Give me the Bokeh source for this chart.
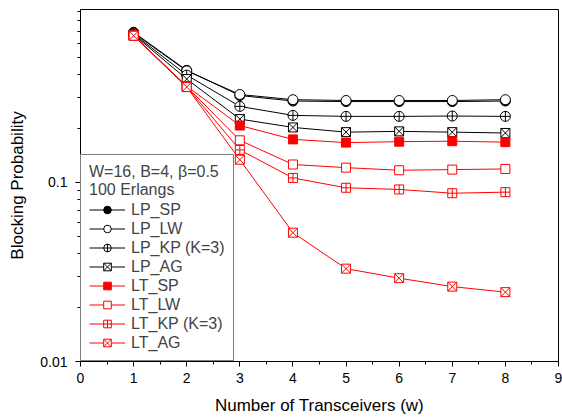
from bokeh.plotting import figure
from bokeh.models import (Legend, LegendItem, FixedTicker, CustomJSTickFormatter)
from bokeh.embed import file_html
from bokeh.resources import INLINE

transceivers = [1, 2, 3, 4, 5, 6, 7, 8]
lp_sp = [0.690, 0.423, 0.306, 0.285, 0.283, 0.283, 0.283, 0.285]
lp_lw = [0.683, 0.420, 0.310, 0.290, 0.287, 0.287, 0.287, 0.290]
lp_kp = [0.676, 0.398, 0.266, 0.237, 0.234, 0.234, 0.235, 0.234]
lp_ag = [0.670, 0.378, 0.226, 0.203, 0.191, 0.193, 0.191, 0.189]
lt_sp = [0.663, 0.345, 0.208, 0.174, 0.167, 0.169, 0.170, 0.168]
lt_lw = [0.662, 0.343, 0.172, 0.126, 0.121, 0.117, 0.118, 0.119]
lt_kp = [0.661, 0.342, 0.152, 0.106, 0.0934, 0.0914, 0.0871, 0.0883]
lt_ag = [0.660, 0.341, 0.134, 0.0524, 0.0330, 0.0292, 0.0262, 0.0244]

x_ticks = [0, 1, 2, 3, 4, 5, 6, 7, 8, 9]
y_major = [0.01, 0.1]
y_minor = [0.02, 0.03, 0.04, 0.05, 0.06, 0.07, 0.08, 0.09,
           0.2, 0.3, 0.4, 0.5, 0.6, 0.7, 0.8, 0.9]

FONT = "Liberation Sans"

p = figure(width=562, height=420, x_range=(0, 9), y_range=(0.01, 0.925),
           y_axis_type="log", output_backend="svg", toolbar_location=None,
           min_border_left=80, min_border_right=4, min_border_top=9,
           min_border_bottom=59)
p.grid.visible = False
p.outline_line_color = "black"
p.outline_line_width = 1
p.background_fill_color = "white"
p.border_fill_color = "white"

# axes
p.xaxis.ticker = FixedTicker(ticks=x_ticks,
                             minor_ticks=[t + 0.5 for t in x_ticks[:-1]])
p.yaxis.ticker = FixedTicker(ticks=y_major, minor_ticks=y_minor)
p.yaxis.formatter = CustomJSTickFormatter(
    code="return parseFloat(tick.toPrecision(3)).toString();")
for ax in (p.xaxis[0], p.yaxis[0]):
    ax.axis_line_color = "black"
    ax.major_tick_line_color = "black"
    ax.minor_tick_line_color = "black"
    ax.major_tick_in = 0
    ax.major_tick_out = 5
    ax.minor_tick_in = 0
    ax.minor_tick_out = 3
    ax.major_label_text_font = FONT
    ax.major_label_text_font_size = "14px"
    ax.major_label_text_color = "black"
    ax.axis_label_text_font = FONT
    ax.axis_label_text_font_size = "17px"
    ax.axis_label_text_font_style = "normal"
    ax.axis_label_text_color = "black"
p.xaxis.axis_label = "Number of Transceivers (w)"
p.yaxis.axis_label = "Blocking Probability"
p.xaxis.major_label_standoff = 6
p.yaxis.major_label_standoff = 8
p.xaxis.axis_label_standoff = 10
p.yaxis.axis_label_standoff = 10

series = [
    ("LP_SP", lp_sp, "black", "circle", "black", 10),
    ("LP_LW", lp_lw, "black", "circle", "white", 10),
    ("LP_KP (K=3)", lp_kp, "black", "circle_cross", "white", 10),
    ("LP_AG", lp_ag, "black", "square_x", "white", 9),
    ("LT_SP", lt_sp, "red", "square", "red", 9),
    ("LT_LW", lt_lw, "red", "square", "white", 9),
    ("LT_KP (K=3)", lt_kp, "red", "square_cross", "white", 9),
    ("LT_AG", lt_ag, "red", "square_x", "white", 9),
]

items = []
for name, vals, col, mk, fill, sz in series:
    ln = p.line(transceivers, vals, line_color=col, line_width=1)
    sc = p.scatter(transceivers, vals, marker=mk, size=sz, line_color=col,
                   fill_color=fill, line_width=1)
    items.append(LegendItem(label=name, renderers=[ln, sc]))

legend = Legend(items=items, location=(0, 0), margin=0, padding=8,
                spacing=0, glyph_width=36, glyph_height=19,
                label_standoff=6, label_height=19,
                label_text_font=FONT, label_text_font_size="16px",
                title="W=16, B=4, \u03b2=0.5\n100 Erlangs",
                title_text_font=FONT, title_text_font_size="16px",
                title_text_font_style="normal", title_standoff=1,
                border_line_color="black", border_line_width=1,
                background_fill_color="white", background_fill_alpha=1)
p.add_layout(legend)

open("out.html", "w").write(file_html(p, INLINE))
